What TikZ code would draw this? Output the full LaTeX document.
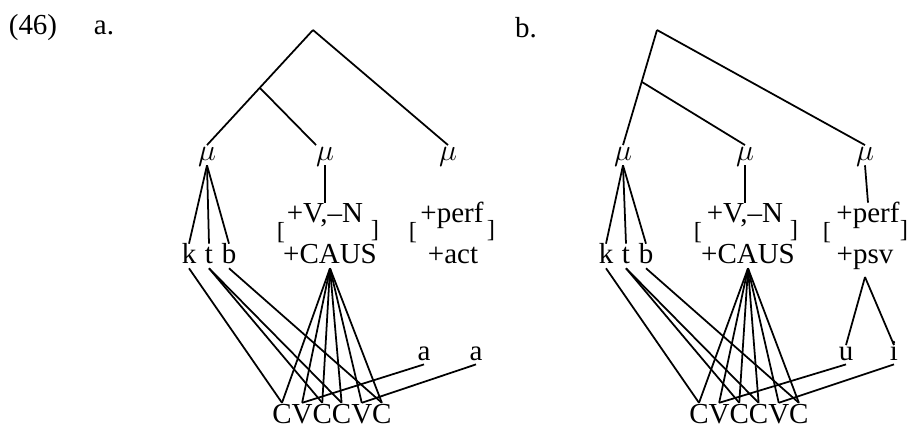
\documentclass[tikz,border=0pt]{standalone}
\usepackage{fontspec}
\setmainfont{Liberation Serif}
\usetikzlibrary{positioning}
\tikzset{
  lab/.style={inner sep=0pt, outer sep=0pt, anchor=base, text height=1.1em, text depth=0.3em},
  mnode/.style={lab, text height=0.85em},
  vow/.style={lab, text height=0.85em, text depth=0.25em},
  slot/.style={lab, text height=1.15em, text depth=0pt},
  brk/.style={inner sep=0pt, font=\fontsize{14}{16}\selectfont},
  assoc/.style={line width=1pt}
}
\begin{document}
\begin{tikzpicture}[x=0.02cm, y=-0.02cm, font=\fontsize{16.5}{19}\selectfont]
\useasboundingbox (0,0) rectangle (914,427);
\node (ex) at (33,28) {(46)};
% (a) active
\begin{scope}
\node (lbl) at (104,28) {a.};
\coordinate (root) at (313,30);
\coordinate (fork) at (260,88);
\node[mnode] (mu1) at (207,160) {$\mu$};
\node[mnode] (mu2) at (325,160) {$\mu$};
\node[mnode] (mu3) at (448,160) {$\mu$};
\node[lab] (k) at (189,263) {k};
\node[lab] (t) at (209,263) {t};
\node[lab] (b) at (229,263) {b};
\node[lab] (vn) at (325,222) {+V,--N};
\node[lab] (caus) at (330,263) {+CAUS};
\node[brk] (lb1) at (281,233) {[};
\node[brk] (rb1) at (375,231) {]};
\node[lab] (perf) at (452,222) {+perf};
\node[lab] (voice) at (453,263) {+act};
\node[brk] (lb2) at (413,233) {[};
\node[brk] (rb2) at (491,231) {]};
\node[vow] (a1) at (424,360) {a};
\node[vow] (a2) at (476,360) {a};
\node[slot] (c1) at (282,423) {C};
\node[slot, right=0pt of c1] (v1) {V};
\node[slot, right=0pt of v1] (c2) {C};
\node[slot, right=0pt of c2] (c3) {C};
\node[slot, right=0pt of c3] (v2) {V};
\node[slot, right=0pt of v2] (c4) {C};
\draw[assoc] (root) -- (mu1.north);
\draw[assoc] (fork) -- (mu2.north west);
\draw[assoc] (root) -- (mu3.north);
\draw[assoc] (mu1.south) -- (k.north);
\draw[assoc] (mu1.south) -- (t.north);
\draw[assoc] (mu1.south) -- (b.north);
\draw[assoc] (mu2.south) -- (vn.north);
\draw[assoc] (k.south) -- (c1.north);
\draw[assoc] (t.south) -- (c2.north);
\draw[assoc] (t.south) -- (c3.north);
\draw[assoc] (b.south) -- (c4.north);
\draw[assoc] (caus.south) -- (c1.north);
\draw[assoc] (caus.south) -- (v1.north);
\draw[assoc] (caus.south) -- (c2.north);
\draw[assoc] (caus.south) -- (c3.north);
\draw[assoc] (caus.south) -- (v2.north);
\draw[assoc] (caus.south) -- (c4.north);
\draw[assoc] (a1.south) -- (v1.north);
\draw[assoc] (a2.south) -- (v2.north);
\end{scope}
% (b) passive
\begin{scope}[shift={(417,0)}]
\node (lbl) at (109,28) {b.};
\coordinate (root) at (240,30);
\coordinate (fork) at (225,82);
\node[mnode] (mu1) at (206,160) {$\mu$};
\node[mnode] (mu2) at (328,160) {$\mu$};
\node[mnode] (mu3) at (448,160) {$\mu$};
\node[lab] (k) at (189,263) {k};
\node[lab] (t) at (209,263) {t};
\node[lab] (b) at (229,263) {b};
\node[lab] (vn) at (328,222) {+V,--N};
\node[lab] (caus) at (331,263) {+CAUS};
\node[brk] (lb1) at (281,233) {[};
\node[brk] (rb1) at (377,231) {]};
\node[lab] (perf) at (451,222) {+perf};
\node[lab, text depth=0.8em] (voice) at (448,263) {+psv};
\node[brk] (lb2) at (410,233) {[};
\node[brk] (rb2) at (487,231) {]};
\node[vow] (u) at (429,360) {u};
\node[vow] (i) at (477,360) {i};
\node[slot] (c1) at (282,423) {C};
\node[slot, right=0pt of c1] (v1) {V};
\node[slot, right=0pt of v1] (c2) {C};
\node[slot, right=0pt of c2] (c3) {C};
\node[slot, right=0pt of c3] (v2) {V};
\node[slot, right=0pt of v2] (c4) {C};
\draw[assoc] (root) -- (mu1.north);
\draw[assoc] (fork) -- (mu2.north);
\draw[assoc] (root) -- (mu3.north);
\draw[assoc] (mu1.south) -- (k.north);
\draw[assoc] (mu1.south) -- (t.north);
\draw[assoc] (mu1.south) -- (b.north);
\draw[assoc] (mu2.south) -- (vn.north);
\draw[assoc] (mu3.south) -- (perf.north);
\draw[assoc] (k.south) -- (c1.north);
\draw[assoc] (t.south) -- (c2.north);
\draw[assoc] (t.south) -- (c3.north);
\draw[assoc] (b.south) -- (c4.north);
\draw[assoc] (caus.south) -- (c1.north);
\draw[assoc] (caus.south) -- (v1.north);
\draw[assoc] (caus.south) -- (c2.north);
\draw[assoc] (caus.south) -- (c3.north);
\draw[assoc] (caus.south) -- (v2.north);
\draw[assoc] (caus.south) -- (c4.north);
\draw[assoc] (voice.south) -- (u.north);
\draw[assoc] (voice.south) -- (i.north);
\draw[assoc] (u.south) -- (v1.north);
\draw[assoc] (i.south) -- (v2.north);
\end{scope}
\end{tikzpicture}
\end{document}
